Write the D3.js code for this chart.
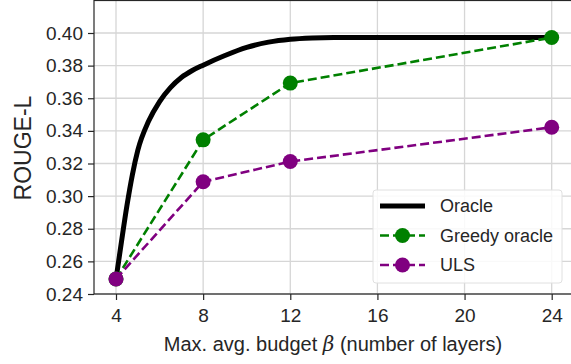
<!DOCTYPE html>
<html lang="en">
<head>
    <meta charset="UTF-8">
    <title>ROUGE-L vs budget</title>
    <style>
        body { margin: 0; padding: 0; background: #ffffff; }
        svg { display: block; }
        text { font-family: "Liberation Sans", Arial, sans-serif; fill: #262626; }
        .grid line { stroke: #d6d6d6; stroke-width: 1.3px; }
    </style>
</head>
<body>
    <div id="chart"></div>
    <script src="https://d3js.org/d3.v7.min.js"></script>
    <script>
        const width = 571;
        const height = 364;

        // x ticks (budget) and y ticks (ROUGE-L)
        const xTicks = [4, 8, 12, 16, 20, 24];
        const yTicks = [0.24, 0.26, 0.28, 0.30, 0.32, 0.34, 0.36, 0.38, 0.40];

        // Oracle curve
        const oracleX = [4, 4.25, 4.5, 4.75, 5, 5.5, 6, 6.5, 7, 7.5, 8, 9, 10, 11, 12, 13, 14, 24];
        const oracleY = [0.249, 0.272, 0.294, 0.313, 0.328, 0.346, 0.358, 0.3665, 0.3727, 0.377, 0.3803, 0.3862, 0.3912, 0.3944, 0.3962, 0.397, 0.3973, 0.3973];

        // Greedy oracle and ULS
        const budgets = [4, 8, 12, 24];
        const greedyY = [0.2492, 0.3345, 0.3693, 0.3972];
        const ulsY = [0.2492, 0.3088, 0.3212, 0.3422];

        const series = [
            {name: "Oracle", color: "#000000"},
            {name: "Greedy oracle", color: "#008000"},
            {name: "ULS", color: "#800080"}
        ];

        const plotLeft = 94, plotRight = 573, plotTop = 0.5, plotBottom = 294;

        const x = d3.scaleLinear().domain([4, 24]).range([116, 551.7]);
        const y = d3.scaleLinear().domain([0.24, 0.40]).range([294, 33]);

        const svg = d3.select("#chart").append("svg")
            .attr("width", width)
            .attr("height", height);

        // grid
        const grid = svg.append("g").attr("class", "grid");
        grid.selectAll("line.v").data(xTicks).enter().append("line")
            .attr("x1", d => x(d)).attr("x2", d => x(d))
            .attr("y1", plotTop).attr("y2", plotBottom);
        grid.selectAll("line.h").data(yTicks).enter().append("line")
            .attr("x1", plotLeft).attr("x2", plotRight)
            .attr("y1", d => y(d)).attr("y2", d => y(d));

        // axes
        const xAxis = d3.axisBottom(x).tickValues(xTicks).tickSize(6).tickPadding(9)
            .tickFormat(d3.format("d"));
        const yAxis = d3.axisLeft(y).tickValues(yTicks).tickSize(6).tickPadding(5)
            .tickFormat(d3.format(".2f"));

        const gx = svg.append("g").attr("transform", `translate(0,${plotBottom})`).call(xAxis);
        const gy = svg.append("g").attr("transform", `translate(${plotLeft},0)`).call(yAxis);
        [gx, gy].forEach(g => {
            g.select(".domain").remove();
            g.selectAll(".tick line").attr("stroke", "#262626").attr("stroke-width", 1.2);
            g.selectAll(".tick text").style("font-size", "19px").attr("fill", "#262626");
        });

        // frame
        svg.append("rect")
            .attr("x", plotLeft).attr("y", plotTop)
            .attr("width", plotRight - plotLeft).attr("height", plotBottom - plotTop)
            .attr("fill", "none").attr("stroke", "#262626").attr("stroke-width", 1.2);

        // lines
        const oracleData = oracleX.map((d, i) => [d, oracleY[i]]);
        const curved = d3.line().x(d => x(d[0])).y(d => y(d[1])).curve(d3.curveMonotoneX);

        svg.append("path")
            .datum(oracleData)
            .attr("fill", "none")
            .attr("stroke", series[0].color)
            .attr("stroke-width", 5)
            .attr("d", curved);

        const plain = d3.line().x(d => x(d[0])).y(d => y(d[1]));
        [[greedyY, series[1].color], [ulsY, series[2].color]].forEach(([vals, color]) => {
            const pts = budgets.map((b, i) => [b, vals[i]]);
            svg.append("path")
                .datum(pts)
                .attr("fill", "none")
                .attr("stroke", color)
                .attr("stroke-width", 2.6)
                .attr("stroke-dasharray", "9,4")
                .attr("d", plain);
            svg.append("g").selectAll("circle")
                .data(pts).enter().append("circle")
                .attr("cx", d => x(d[0]))
                .attr("cy", d => y(d[1]))
                .attr("r", 7.5)
                .attr("fill", color);
        });

        // axis titles
        svg.append("text")
            .attr("x", 333).attr("y", 351)
            .attr("text-anchor", "middle")
            .style("font-size", "20px")
            .html('Max. avg. budget <tspan font-family="DejaVu Serif" font-style="italic">β</tspan> (number of layers)');

        svg.append("text")
            .attr("transform", "translate(31,148) rotate(-90)")
            .attr("text-anchor", "middle")
            .style("font-size", "23px")
            .text("ROUGE-L");

        // legend
        const legend = svg.append("g");
        legend.append("rect")
            .attr("x", 373).attr("y", 190)
            .attr("width", 189).attr("height", 93)
            .attr("rx", 3)
            .attr("fill", "#ffffff").attr("fill-opacity", 0.85)
            .attr("stroke", "#e0e0e0");
        const rows = legend.selectAll("g.row").data(series).enter().append("g")
            .attr("transform", (d, i) => `translate(0,${206 + i * 29.5})`);
        rows.append("line")
            .attr("x1", 380).attr("x2", 425)
            .attr("stroke", d => d.color)
            .attr("stroke-width", (d, i) => i === 0 ? 5 : 2.6)
            .attr("stroke-dasharray", (d, i) => i === 0 ? null : "9,4");
        rows.filter((d, i) => i > 0).append("circle")
            .attr("cx", 402.5).attr("r", 7.5)
            .attr("fill", d => d.color);
        rows.append("text")
            .attr("x", 440).attr("dy", "0.35em")
            .style("font-size", "18px")
            .text(d => d.name);
    </script>
</body>
</html>
